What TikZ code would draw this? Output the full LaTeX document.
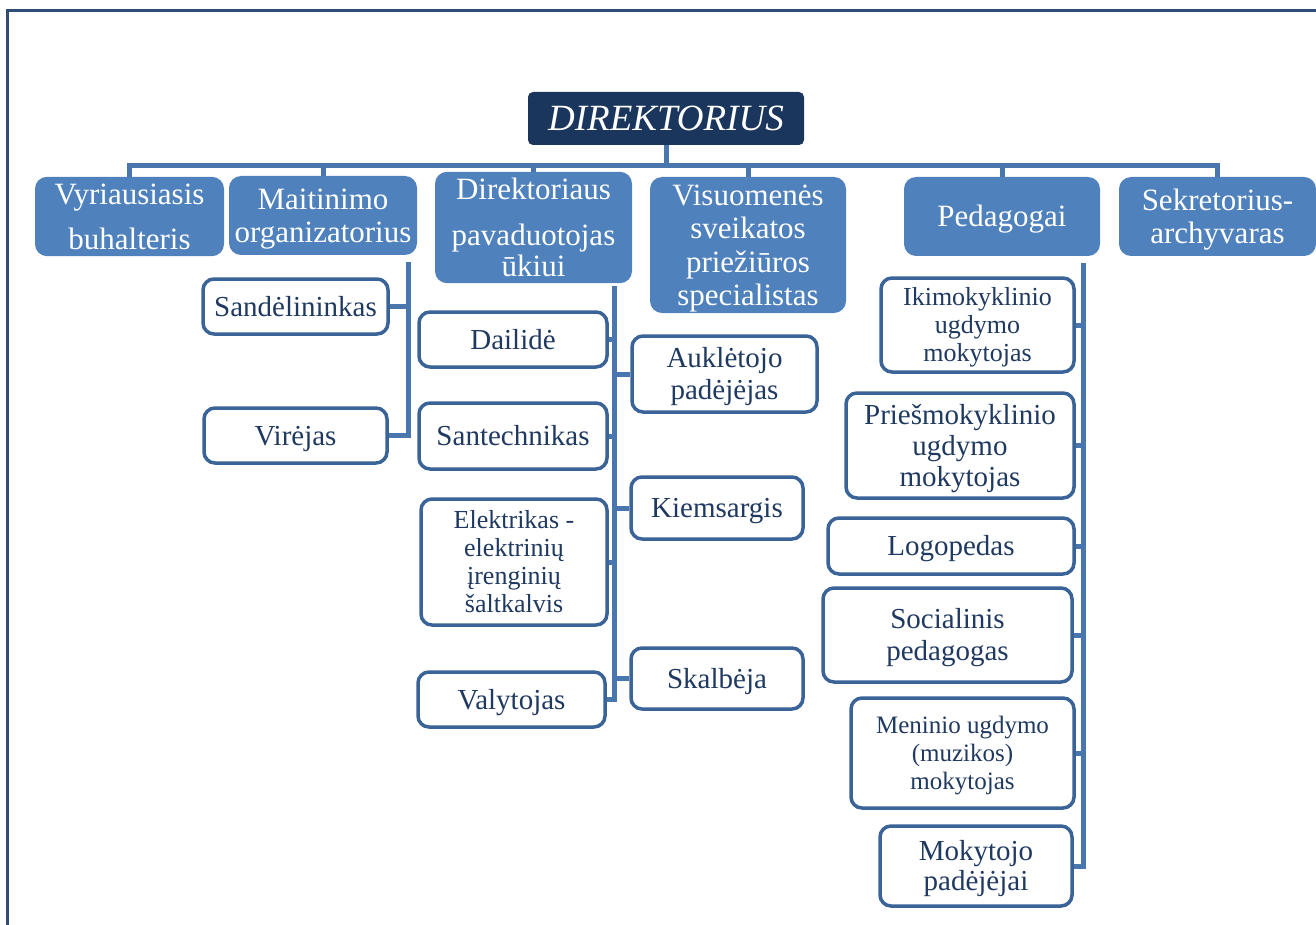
\documentclass[tikz,border=0pt]{standalone}
\usepackage{fontspec}
\setmainfont{Liberation Serif}
\usetikzlibrary{backgrounds}
\definecolor{navy}{HTML}{1B365D}
\definecolor{fillblue}{HTML}{4F81BD}
\definecolor{linecol}{HTML}{4A76AE}
\definecolor{bordercol}{HTML}{3A6398}
\definecolor{txtnavy}{HTML}{1F3960}
\definecolor{framecol}{HTML}{2E4D77}
\newcommand\wtop{\rule{0pt}{0.891em}}
\newcommand\wbot{\rule[-0.216em]{0pt}{0pt}}
\tikzset{
  sz/.style 2 args={minimum width=#1, minimum height=#2},
  one/.style={execute at begin node={\wtop}, execute at end node={\wbot}},
  fillbox/.style={fill=fillblue, draw=none, rounded corners=12pt, text=white, align=center, inner sep=0pt, font=\fontsize{31}{33}\selectfont},
  outbox/.style={fill=white, draw=bordercol, line width=3.5pt, rounded corners=11pt, text=txtnavy, align=center, inner sep=0pt, font=\fontsize{29}{31}\selectfont},
  smalltxt/.style={font=\fontsize{26}{28}\selectfont},
  headbox/.style={fill=navy, draw=none, rounded corners=5pt, text=white, inner sep=0pt, font=\fontsize{37}{40}\selectfont\itshape},
  conn/.style={draw=linecol, line width=5pt},
  frameline/.style={draw=framecol, line width=3pt},
}
\begin{document}
\begin{tikzpicture}[x=1pt,y=-1pt]
\useasboundingbox (0,0) rectangle (1316,925);
% frame
\coordinate (fbl) at (7,925);
\coordinate (ftl) at (7,11);
\coordinate (ftr) at (1316,11);
\draw[frameline] (fbl) -- (ftl) -- (ftr);

% head
\node[headbox, sz={276}{53}] (direk) at (666,118.5) {DIREKTORIUS};

% top level boxes
\node[fillbox, sz={189}{79}] (vyr) at (129.5,216.5) {\wtop Vyriausiasis\\[12pt]buhalteris\wbot};
\node[fillbox, sz={188}{79}] (mait) at (323,215.5) {\wtop Maitinimo\\organizatorius\wbot};
\node[fillbox, sz={197}{103}, font=\fontsize{31}{31}\selectfont] (dir) at (533.5,227.5) {\wtop Direktoriaus\\[15pt]pavaduotojas\\ūkiui\wbot};
\node[fillbox, sz={196}{136}, font=\fontsize{31}{33.5}\selectfont] (vis) at (748,245) {\wtop Visuomenės\\sveikatos\\priežiūros\\specialistas\wbot};
\node[fillbox, one, sz={196}{79}] (ped) at (1002,216.5) {Pedagogai};
\node[fillbox, sz={197}{79}] (sek) at (1217.5,216.5) {\wtop Sekretorius-\\archyvaras\wbot};

% Maitinimo group
\node[outbox, one, sz={185}{55}] (sand) at (295.5,306.5) {Sandėlininkas};
\node[outbox, one, sz={183}{55}] (vire) at (295.5,435.5) {Virėjas};

% Direktoriaus pavaduotojas group
\node[outbox, one, sz={188}{55}] (dail) at (513,339.5) {Dailidė};
\node[outbox, one, sz={188}{66}] (sant) at (513,436) {Santechnikas};
\node[outbox, sz={186}{126}, smalltxt] (elek) at (514,562) {\wtop Elektrikas -\\elektrinių\\įrenginių\\šaltkalvis\wbot};
\node[outbox, one, sz={187}{55}] (valy) at (511.5,699.5) {Valytojas};
\node[outbox, sz={185}{76}, font=\fontsize{29}{32}\selectfont] (aukl) at (724.5,374) {\wtop Auklėtojo\\padėjėjas\wbot};
\node[outbox, one, sz={172}{62}] (kiem) at (717,508) {Kiemsargis};
\node[outbox, one, sz={172}{61}] (skal) at (717,678.5) {Skalbėja};

% Pedagogai group
\node[outbox, sz={193}{94}, smalltxt] (ikim) at (977.5,325) {\wtop Ikimokyklinio\\ugdymo\\mokytojas\wbot};
\node[outbox, sz={228}{105}] (pries) at (960,445.5) {\wtop Priešmokyklinio\\ugdymo\\mokytojas\wbot};
\node[outbox, one, sz={246}{56}] (logo) at (951,546) {Logopedas};
\node[outbox, sz={249}{94}, font=\fontsize{29}{32}\selectfont] (soc) at (947.5,635) {\wtop Socialinis\\pedagogas\wbot};
\node[outbox, sz={223}{110}, font=\fontsize{25}{28}\selectfont] (men) at (962.5,753) {\wtop Meninio ugdymo\\(muzikos)\\mokytojas\wbot};
\node[outbox, sz={192}{80}, font=\fontsize{29}{30}\selectfont] (moky) at (976,866) {\wtop Mokytojo\\padėjėjai\wbot};

% connectors
\begin{scope}[on background layer]
\coordinate (bus) at (666,166);
\draw[conn] (direk.south) -- (bus);
\draw[conn] (bus) -| (vyr.north);
\draw[conn] (bus) -| (mait.north);
\draw[conn] (bus) -| (dir.north);
\draw[conn] (bus) -| (vis.north);
\draw[conn] (bus) -| (ped.north);
\draw[conn] (bus) -| (sek.north);

\coordinate (mtop) at (408,262);
\draw[conn] (mtop) |- (sand.east);
\draw[conn] (mtop) |- (vire.east);

\coordinate (dtop) at (614,286);
\draw[conn] (dtop) |- (dail.east);
\draw[conn] (dtop) |- (sant.east);
\draw[conn] (dtop) |- (elek.east);
\draw[conn] (dtop) |- (valy.east);
\draw[conn] (dtop) |- (aukl.west);
\draw[conn] (dtop) |- (kiem.west);
\draw[conn] (dtop) |- (skal.west);

\coordinate (ptop) at (1083,263);
\draw[conn] (ptop) |- (ikim.east);
\draw[conn] (ptop) |- (pries.east);
\draw[conn] (ptop) |- (logo.east);
\draw[conn] (ptop) |- (soc.east);
\draw[conn] (ptop) |- (men.east);
\draw[conn] (ptop) |- (moky.east);
\end{scope}
\end{tikzpicture}
\end{document}
